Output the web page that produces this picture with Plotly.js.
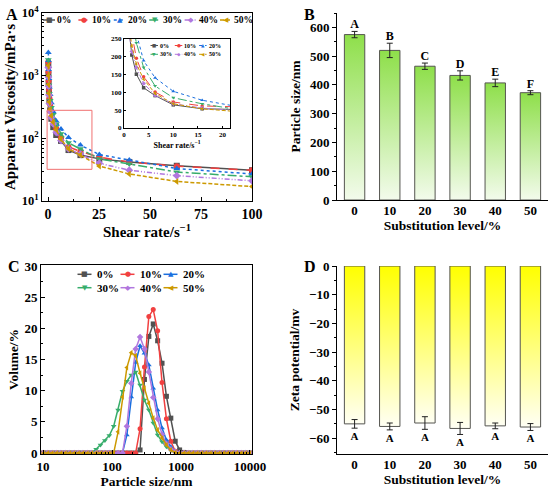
<!DOCTYPE html>
<html><head><meta charset="utf-8">
<script src="https://cdn.plot.ly/plotly-3.0.1.min.js"></script>
<style>html,body{margin:0;padding:0;background:#fff}#chart{width:550px;height:490px}</style>
</head><body><div id="chart"></div>
<script>
// ---------- DATA ----------
const seriesNames = ['0%', '10%', '20%', '30%', '40%', '50%'];

// Panel A: apparent viscosity vs shear rate
const shearRate = [0.1, 0.158, 0.251, 0.398, 0.631, 1.0, 1.585, 2.512, 3.981, 6.31, 10.0, 15.85, 25.12, 39.81, 63.1, 100];
const visc0  = [1500, 1050, 760, 540, 390, 280, 205, 151, 113, 91, 65, 54, 47, 42, 36.5, 31];
const visc10 = [1650, 1150, 830, 600, 440, 340, 265, 196, 144, 101, 73, 62, 50, 42, 36, 31];
const visc20 = [2350, 1750, 1250, 900, 660, 500, 370, 265, 189, 141, 103, 78, 55, 45, 33, 27];
const visc30 = [1800, 1300, 950, 700, 520, 400, 310, 239, 170, 118, 85, 68, 47, 39, 29, 24.4];
const visc40 = [1350, 950, 680, 490, 360, 270, 215, 170, 125, 92, 68, 56, 40, 31, 25.4, 21];
const visc50 = [1450, 1000, 720, 520, 380, 290, 230, 180, 137, 97, 68, 54, 36, 27, 20.5, 17];

// Panel B: particle size
const levels = ['0', '10', '20', '30', '40', '50'];
const particleSize = [575, 520, 465, 433, 407, 373];
const sizeErr = [11, 25, 11, 16, 13, 7];
const sizeLetters = ['A', 'B', 'C', 'D', 'E', 'F'];

// Panel C: particle size distribution
const binSize = [10.1, 11.7, 13.54, 15.69, 18.17, 21.04, 24.36, 28.21, 32.67, 37.84, 43.82, 50.75,
  58.77, 68.06, 78.82, 91.28, 105.7, 122.4, 141.8, 164.2, 190.1, 220.2, 255.0, 295.3,
  342.0, 396.1, 458.7, 531.2, 615.1, 712.4, 825.0, 955.4, 1106, 1281, 1484, 1718,
  1990, 2305, 2669, 3091, 3580, 4145, 4801, 5560, 6439, 7456, 8635, 10000];
const vol0  = [0,0,0,0,0,0,0,0,0,0,0,0, 0,0,0,0,0,0,0,0,0,0,0.5,11.8, 18.7,20.7,18.0,14.4,9.1,5.6,1.9,0.5,0.1,0,0,0, 0,0,0,0,0,0,0,0,0,0,0,0];
const vol10 = [0,0,0,0,0,0,0,0,0,0,0,0, 0,0,0,0,0,0,0,0,0,0,3.9,13.8, 21.9,23.0,19.6,11.3,5.5,1.9,0.3,0,0,0,0,0, 0,0,0,0,0,0,0,0,0,0,0,0];
const vol20 = [0,0,0,0,0,0,0,0,0,0,0,0, 0,0,0,0,0,0,0,2.9,9.0,14.5,17.2,16.0, 14.1,10.4,6.9,4.0,2.1,1.0,0.3,0.1,0,0,0,0, 0,0,0,0,0,0,0,0,0,0,0,0];
const vol30 = [0,0,0,0,0,0,0,0,0,0,0,0, 0.6,1.3,2.0,2.8,4.3,6.9,9.9,11.5,12.5,13.0,10.9,8.5, 6.9,4.8,2.9,1.8,1.0,0.4,0.1,0,0,0,0,0, 0,0,0,0,0,0,0,0,0,0,0,0];
const vol40 = [0,0,0,0,0,0,0,0,0,0,0,0, 0,0,0,0,0,0,0,4.3,11.2,16.7,18.6,16.7, 13.0,8.9,5.5,3.0,1.5,0.6,0.2,0,0,0,0,0, 0,0,0,0,0,0,0,0,0,0,0,0];
const vol50 = [0,0,0,0,0,0,0,0,0,0,0,0, 0,0,0,0,0,3.4,9.0,13.7,16.1,15.6,12.8,10.4, 8.0,5.6,3.7,2.4,1.3,0.5,0.1,0,0,0,0,0, 0,0,0,0,0,0,0,0,0,0,0,0];

// Panel D: zeta potential
const zeta = [-55.0, -55.9, -54.7, -56.6, -55.7, -56.1];
const zetaErr = [1.5, 1.2, 2.2, 2.1, 1.0, 1.2];
const zetaLetters = ['A', 'A', 'A', 'A', 'A', 'A'];

// ---------- STYLE ----------
const colors = ['#515151', '#F14040', '#1A6FDF', '#37AD6B', '#B177DE', '#CC9900'];
const symbols = ['square', 'circle', 'triangle-up', 'triangle-down', 'diamond', 'triangle-left'];
const glyphs = ['\u25A0', '\u25CF', '\u25B2', '\u25BC', '\u25C6', '\u25C0'];
const dashesA = ['solid', 'dash', 'dot', 'dashdot', '5px,2px,1px,2px,1px,2px', '4px,2px'];
const viscSeries = [visc0, visc10, visc20, visc30, visc40, visc50];
const volSeries = [vol0, vol10, vol20, vol30, vol40, vol50];

const W = 550, H = 490;
const px = x => x / W;
const py = y => 1 - y / H;
const serif = 'Liberation Serif, Times New Roman, serif';
const bold = (size, color) => ({family: serif, size: size, weight: 'bold', color: color || '#000'});
const letterGap = 1.2; // label padding below zeta error bars (axis units)

const traces = [];

// Panel A main + inset
viscSeries.forEach((v, i) => {
  traces.push({type: 'scatter', mode: 'lines+markers', x: shearRate, y: v, xaxis: 'x', yaxis: 'y',
    line: {color: colors[i], width: 1.5, dash: dashesA[i]},
    marker: {symbol: symbols[i], size: 6, color: colors[i]}, showlegend: false, name: seriesNames[i]});
});
viscSeries.forEach((v, i) => {
  traces.push({type: 'scatter', mode: 'lines+markers', x: shearRate, y: v, xaxis: 'x2', yaxis: 'y2',
    line: {color: colors[i], width: 1, dash: dashesA[i]},
    marker: {symbol: symbols[i], size: 3.5, color: colors[i]}, showlegend: false, name: seriesNames[i]});
});

// gradient bars
const barW = 0.58;
function gradientBars(values, xa, ya, scale) {
  values.forEach((v, i) => {
    traces.push({type: 'scatter', mode: 'lines', xaxis: xa, yaxis: ya, fill: 'toself',
      x: [i - barW / 2, i - barW / 2, i + barW / 2, i + barW / 2, i - barW / 2],
      y: [0, v, v, 0, 0],
      line: {color: '#555550', width: 1},
      fillgradient: {type: 'vertical', colorscale: scale, start: 0, stop: v},
      showlegend: false, hoverinfo: 'skip'});
  });
}
const idx = levels.map((_, i) => i);

// Panel B
gradientBars(particleSize, 'x3', 'y3', [[0, '#f3fbec'], [1, '#8edf4a']]);
traces.push({type: 'scatter', mode: 'markers', x: idx, y: particleSize, xaxis: 'x3', yaxis: 'y3',
  marker: {size: 1, color: 'rgba(0,0,0,0)'},
  error_y: {type: 'data', array: sizeErr, color: '#222', thickness: 1, width: 3}, showlegend: false});
traces.push({type: 'scatter', mode: 'text', x: idx, y: particleSize.map((v, i) => v + sizeErr[i]),
  text: sizeLetters, textposition: 'top center', textfont: bold(12), xaxis: 'x3', yaxis: 'y3',
  showlegend: false, hoverinfo: 'skip', cliponaxis: false});

// Panel C
volSeries.forEach((v, i) => {
  traces.push({type: 'scatter', mode: 'lines+markers', x: binSize, y: v, xaxis: 'x4', yaxis: 'y4',
    line: {color: colors[i], width: 1.5},
    marker: {symbol: symbols[i], size: 5, color: colors[i]}, showlegend: false, name: seriesNames[i]});
});

// Panel D
gradientBars(zeta, 'x5', 'y5', [[0, '#ffff00'], [1, '#fffff4']]);
traces.push({type: 'scatter', mode: 'markers', x: idx, y: zeta, xaxis: 'x5', yaxis: 'y5',
  marker: {size: 1, color: 'rgba(0,0,0,0)'},
  error_y: {type: 'data', array: zetaErr, color: '#222', thickness: 1, width: 3}, showlegend: false});
traces.push({type: 'scatter', mode: 'text', x: idx, y: zeta.map((v, i) => v - zetaErr[i] - letterGap),
  text: zetaLetters, textposition: 'bottom center', textfont: bold(11), xaxis: 'x5', yaxis: 'y5',
  showlegend: false, hoverinfo: 'skip', cliponaxis: false});

// ---------- LAYOUT ----------
const axBase = {showline: true, linecolor: '#000', linewidth: 1, zeroline: false, showgrid: false,
  tickcolor: '#000', tickwidth: 1, automargin: false};

const shapes = [];
const annotations = [];

// red zoom rectangle in A
shapes.push({type: 'rect', xref: 'x', yref: 'y', x0: -0.5, x1: 21.5, y0: 32, y1: 280,
  line: {color: '#f07070', width: 1}, layer: 'above'});

function addLegend(o) {
  seriesNames.forEach((n, i) => {
    const r = Math.floor(i / o.ncol), c = i % o.ncol;
    const x = o.x0 + c * o.dx, y = o.y0 + r * o.dy;
    shapes.push({type: 'line', xref: 'paper', yref: 'paper', x0: px(x), x1: px(x + o.len), y0: py(y), y1: py(y),
      line: {color: colors[i], width: o.lw, dash: o.dashes ? o.dashes[i] : 'solid'}});
    annotations.push({xref: 'paper', yref: 'paper', x: px(x + o.len / 2), y: py(y), text: glyphs[i],
      showarrow: false, xanchor: 'center', yanchor: 'middle', borderpad: 0,
      font: {family: 'DejaVu Sans', size: o.ms, color: colors[i]}});
    annotations.push({xref: 'paper', yref: 'paper', x: px(x + o.len + o.gap), y: py(y), text: n,
      showarrow: false, xanchor: 'left', yanchor: 'middle', borderpad: 0, font: bold(o.fs)});
  });
}
addLegend({x0: 43, y0: 20, dx: 35.4, dy: 0, ncol: 6, len: 12, gap: 1, lw: 1.5, ms: 7, fs: 9.5, dashes: dashesA});
addLegend({x0: 150.5, y0: 45.5, dx: 24.3, dy: 8.8, ncol: 3, len: 7.5, gap: 1, lw: 1, ms: 4.5, fs: 6, dashes: dashesA});
addLegend({x0: 77.5, y0: 274.3, dx: 43, dy: 13.4, ncol: 3, len: 14, gap: 4, lw: 1.5, ms: 7, fs: 11});

// panel letters
[['A', 5, 14], ['B', 303, 14], ['C', 7, 266], ['D', 303, 266]].forEach(p => {
  annotations.push({xref: 'paper', yref: 'paper', x: px(p[1]), y: py(p[2]), text: p[0], showarrow: false,
    xanchor: 'left', yanchor: 'middle', borderpad: 0, font: bold(16)});
});

const layout = {
  width: W, height: H, margin: {l: 0, r: 0, t: 0, b: 0},
  paper_bgcolor: '#fff', plot_bgcolor: '#fff', showlegend: false,
  font: {family: serif, weight: 'bold', color: '#000'},
  xaxis: Object.assign({}, axBase, {domain: [px(42), px(252)], anchor: 'y', range: [-3, 100],
    tickvals: [0, 25, 50, 75, 100], ticks: 'inside', ticklen: 4, mirror: true,
    minor: {dtick: 12.5, ticks: 'inside', ticklen: 2},
    tickfont: bold(14), title: {text: 'Shear rate/s<sup>\u22121</sup>', font: bold(15), standoff: 1}}),
  yaxis: Object.assign({}, axBase, {domain: [py(201), py(13)], anchor: 'x', type: 'log', range: [1, 4],
    tickvals: [10, 100, 1000, 10000], ticktext: ['10<sup>1</sup>', '10<sup>2</sup>', '10<sup>3</sup>', '10<sup>4</sup>'],
    ticks: 'inside', ticklen: 4, mirror: true, minor: {dtick: 'D1', ticks: 'inside', ticklen: 2},
    tickfont: bold(12.5), title: {text: 'Apparent Viscosity/mPa\u00B7s', font: bold(15), standoff: 2}}),
  xaxis2: Object.assign({}, axBase, {domain: [px(124), px(230)], anchor: 'y2', range: [0, 21.5],
    tickvals: [0, 5, 10, 15, 20], ticks: 'inside', ticklen: 2, mirror: true,
    tickfont: bold(7), title: {text: 'Shear rate/s<sup>\u22121</sup>', font: bold(8), standoff: 1}}),
  yaxis2: Object.assign({}, axBase, {domain: [py(128), py(39)], anchor: 'x2', range: [0, 250],
    dtick: 50, ticks: 'inside', ticklen: 2, mirror: true, tickfont: bold(7)}),
  xaxis3: Object.assign({}, axBase, {domain: [px(337), px(548)], anchor: 'y3', range: [-0.5, 5.5],
    tickvals: idx, ticktext: levels, ticks: '', ticklabelstandoff: -2,
    tickfont: bold(13), title: {text: 'Substitution level/%', font: bold(13.5), standoff: 0}}),
  yaxis3: Object.assign({}, axBase, {domain: [py(200), py(13)], anchor: 'x3', range: [0, 650],
    dtick: 100, ticks: 'outside', ticklen: 4, minor: {dtick: 50, ticks: 'outside', ticklen: 2},
    tickfont: bold(13), title: {text: 'Particle size/nm', font: bold(13.5), standoff: 6}}),
  xaxis4: Object.assign({}, axBase, {domain: [px(41), px(252)], anchor: 'y4', type: 'log', range: [0.97, 4.03],
    tickvals: [10, 100, 1000, 10000], ticktext: ['10', '100', '1000', '10000'], ticks: 'inside', ticklen: 4,
    mirror: true, minor: {dtick: 'D1', ticks: 'inside', ticklen: 2},
    tickfont: bold(13), title: {text: 'Particle size/nm', font: bold(13.5), standoff: 2}}),
  yaxis4: Object.assign({}, axBase, {domain: [py(454), py(265)], anchor: 'x4', range: [-0.15, 30.15],
    dtick: 5, ticks: 'inside', ticklen: 4, mirror: true, minor: {dtick: 2.5, ticks: 'inside', ticklen: 2},
    tickfont: bold(13), title: {text: 'Volume/%', font: bold(13.5), standoff: 2}}),
  xaxis5: Object.assign({}, axBase, {domain: [px(337), px(548)], anchor: 'y5', range: [-0.5, 5.5],
    tickvals: idx, ticktext: levels, ticks: '', ticklabelstandoff: -2,
    tickfont: bold(13), title: {text: 'Substitution level/%', font: bold(13.5), standoff: 0}}),
  yaxis5: Object.assign({}, axBase, {domain: [py(454), py(266)], anchor: 'x5', range: [-65.5, 0],
    dtick: 10, ticks: 'outside', ticklen: 4, minor: {dtick: 5, ticks: 'outside', ticklen: 2},
    tickfont: bold(13), title: {text: 'Zeta potential/mv', font: bold(13.5), standoff: 6}}),
  shapes: shapes,
  annotations: annotations
};

Plotly.newPlot('chart', traces, layout, {staticPlot: true, displayModeBar: false});
</script></body></html>
